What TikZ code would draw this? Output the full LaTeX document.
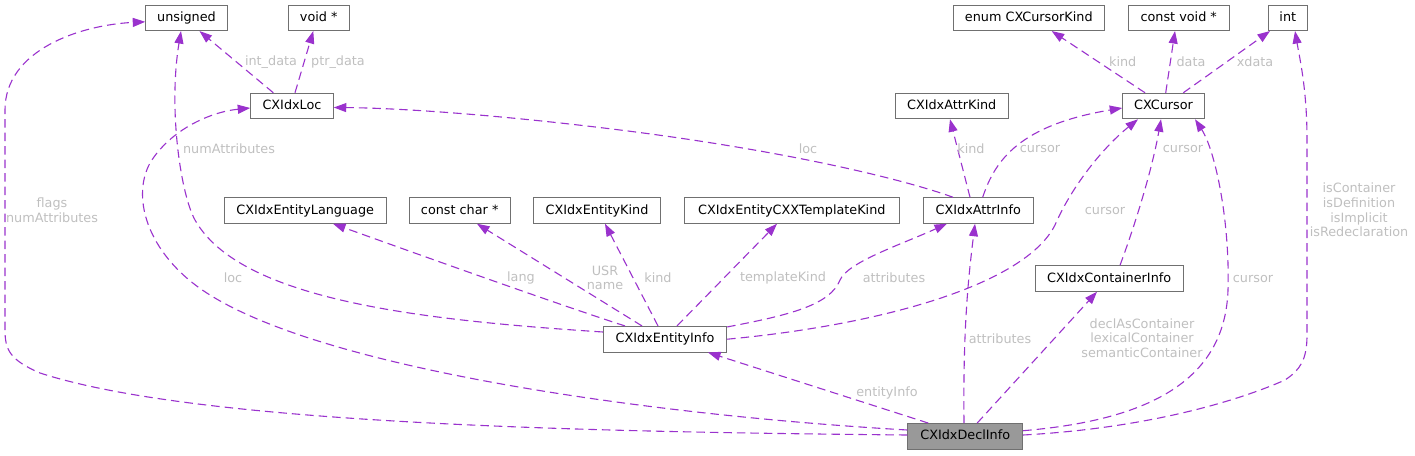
\documentclass[tikz,border=0pt]{standalone}
\usepackage{fontspec}
\setmainfont{DejaVu Sans}
\usetikzlibrary{arrows.meta}
\definecolor{edgec}{HTML}{9A32CD}
\definecolor{boxc}{HTML}{707070}
\definecolor{declfill}{HTML}{999999}
\definecolor{lblc}{HTML}{BFBFBF}
\begin{document}
\begin{tikzpicture}[x=1pt,y=-1pt,
  cls/.style={draw=boxc, line width=0.9pt, fill=white, minimum height=25.6pt, inner sep=0pt,
    text height=9.3pt, text depth=2.3pt, font=\fontsize{12.8}{14.6}\selectfont},
  rel/.style={draw=edgec, line width=1.1pt, dash pattern=on 8.5pt off 5pt,
    arrows={-Triangle[length=12.5pt,width=9pt]}},
  lbl/.style={text=lblc, font=\fontsize{12.8}{14.6}\selectfont, align=center, inner sep=0pt}]
\useasboundingbox (0,0) rectangle (1415,455);

% classes
\node[cls, minimum width=81.6pt] (unsigned) at (186.5,17.8) {unsigned};
\node[cls, minimum width=61.3pt] (voidp) at (318.7,17.8) {void *};
\node[cls, minimum width=151pt] (enumk) at (1028.8,17.8) {enum CXCursorKind};
\node[cls, minimum width=100.7pt] (cvoid) at (1178.7,17.8) {const void *};
\node[cls, minimum width=39pt] (int) at (1287.8,17.8) {int};
\node[cls, minimum width=82.6pt] (loc) at (292,106) {CXIdxLoc};
\node[cls, minimum width=113.3pt] (attrkind) at (951.7,106) {CXIdxAttrKind};
\node[cls, minimum width=81.6pt] (cursor) at (1163.5,106) {CXCursor};
\node[cls, minimum width=161.7pt] (lang) at (305.2,210.5) {CXIdxEntityLanguage};
\node[cls, minimum width=100.7pt] (cchar) at (459.7,210.5) {const char *};
\node[cls, minimum width=127.4pt] (ekind) at (597,210.5) {CXIdxEntityKind};
\node[cls, minimum width=215pt] (tkind) at (791.8,210.5) {CXIdxEntityCXXTemplateKind};
\node[cls, minimum width=110pt] (attrinfo) at (978.3,210.5) {CXIdxAttrInfo};
\node[cls, minimum width=148.3pt] (cont) at (1109.2,278.5) {CXIdxContainerInfo};
\node[cls, minimum width=123.4pt] (entity) at (665,339.2) {CXIdxEntityInfo};
\node[cls, minimum width=115pt, fill=declfill] (decl) at (965.2,436.3) {CXIdxDeclInfo};

% relations
\draw[rel] ([xshift=-18.7pt]loc.north) -- ([xshift=13pt]unsigned.south);
\draw[rel] ([xshift=3pt]loc.north) -- ([xshift=-5.4pt]voidp.south);
\draw[rel] ([xshift=-18.5pt]cursor.north) -- ([xshift=22.9pt]enumk.south);
\draw[rel] ([xshift=2.2pt]cursor.north) -- ([xshift=-3.7pt]cvoid.south);
\draw[rel] ([xshift=19.8pt]cursor.north) -- ([xshift=-17.8pt]int.south);
\draw[rel] ([xshift=-8.3pt]attrinfo.north) -- ([xshift=-1.7pt]attrkind.south);
\draw[rel] ([xshift=4.4pt]attrinfo.north) .. controls (995,160) and (1020,125) .. ([yshift=-2pt]cursor.west);
\draw[rel] ([xshift=-25.3pt]attrinfo.north) .. controls (900,178) and (780,150) .. (620,130)
  .. controls (500,115) and (400,108) .. ([yshift=-1.5pt]loc.east);
\draw[rel] ([xshift=10.8pt]cont.north) .. controls (1135,225) and (1152,170) .. ([xshift=-2.5pt]cursor.south);
\draw[rel] ([yshift=7.2pt]entity.west) .. controls (420,320) and (240,300) .. (195,220)
  .. controls (181,195) and (168,110) .. ([xshift=-5.5pt]unsigned.south);
\draw[rel] ([xshift=-40pt]entity.north) .. controls (560,305) and (420,255) .. ([xshift=27.8pt]lang.south);
\draw[rel] ([xshift=-23pt]entity.north) -- ([xshift=17.3pt]cchar.south);
\draw[rel] ([xshift=-7pt]entity.north) -- ([xshift=8pt]ekind.south);
\draw[rel] ([xshift=12pt]entity.north) -- ([xshift=-14.8pt]tkind.south);
\draw[rel] ([yshift=-1pt]entity.north east) .. controls (790,315) and (830,305) .. (840,280)
  .. controls (848,262) and (900,245) .. ([xshift=-31.3pt]attrinfo.south);
\draw[rel] (entity.east) .. controls (880,325) and (1025,285) .. (1055,225)
  .. controls (1070,190) and (1100,150) .. ([xshift=-25.5pt]cursor.south);
\draw[rel] ([yshift=1.3pt]decl.west) .. controls (600,432) and (200,425) .. (40,373)
  .. controls (10,360) and (5,350) .. (5,330) -- (5,110)
  .. controls (5,50) and (80,25) .. ([yshift=-4pt]unsigned.west);
\draw[rel] ([yshift=6.3pt]decl.west) .. controls (650,415) and (330,370) .. (210,295)
  .. controls (150,258) and (130,200) .. (150,163)
  .. controls (170,130) and (210,112) .. ([yshift=-2pt]loc.west);
\draw[rel] ([xshift=-37pt]decl.north) -- ([xshift=43pt]entity.south);
\draw[rel] ([xshift=-1.2pt]decl.north) .. controls (963,330) and (968,280) .. ([xshift=-3.3pt]attrinfo.south);
\draw[rel] ([xshift=12pt]decl.north) -- ([xshift=-12.2pt]cont.south);
\draw[rel] ([yshift=5.6pt]decl.east) .. controls (1150,420) and (1225,380) .. (1228,290)
  .. controls (1230,220) and (1215,150) .. ([xshift=31.5pt]cursor.south);
\draw[rel] ([yshift=1.3pt]decl.east) .. controls (1150,428) and (1240,400) .. (1285,380)
  .. controls (1300,370) and (1307,360) .. (1307,335) -- (1307,140)
  .. controls (1307,90) and (1300,60) .. ([xshift=7.2pt]int.south);

% labels
\node[lbl] (l1) at (271,62) {int\_data};
\node[lbl] (l2) at (338,62) {ptr\_data};
\node[lbl] (l3) at (1122.7,62) {kind};
\node[lbl] (l4) at (1191,62) {data};
\node[lbl] (l5) at (1255,62) {xdata};
\node[lbl] (l6) at (229,149) {numAttributes};
\node[lbl] (l7) at (808,149) {loc};
\node[lbl] (l8) at (971,149) {kind};
\node[lbl] (l9) at (1040,149) {cursor};
\node[lbl] (l10) at (1183,149) {cursor};
\node[lbl] (l11) at (52,210) {flags\\numAttributes};
\node[lbl] (l12) at (1105,211) {cursor};
\node[lbl] (l13) at (1359,210) {isContainer\\isDefinition\\isImplicit\\isRedeclaration};
\node[lbl] (l14) at (233,278) {loc};
\node[lbl] (l15) at (521,278) {lang};
\node[lbl] (l16) at (605,278) {USR\\name};
\node[lbl] (l17) at (658,278) {kind};
\node[lbl] (l18) at (783,278) {templateKind};
\node[lbl] (l19) at (894,278) {attributes};
\node[lbl] (l20) at (1253,279) {cursor};
\node[lbl] (l21) at (1000,339) {attributes};
\node[lbl] (l22) at (1142,338) {declAsContainer\\lexicalContainer\\semanticContainer};
\node[lbl] (l23) at (887,393) {entityInfo};
\end{tikzpicture}
\end{document}
